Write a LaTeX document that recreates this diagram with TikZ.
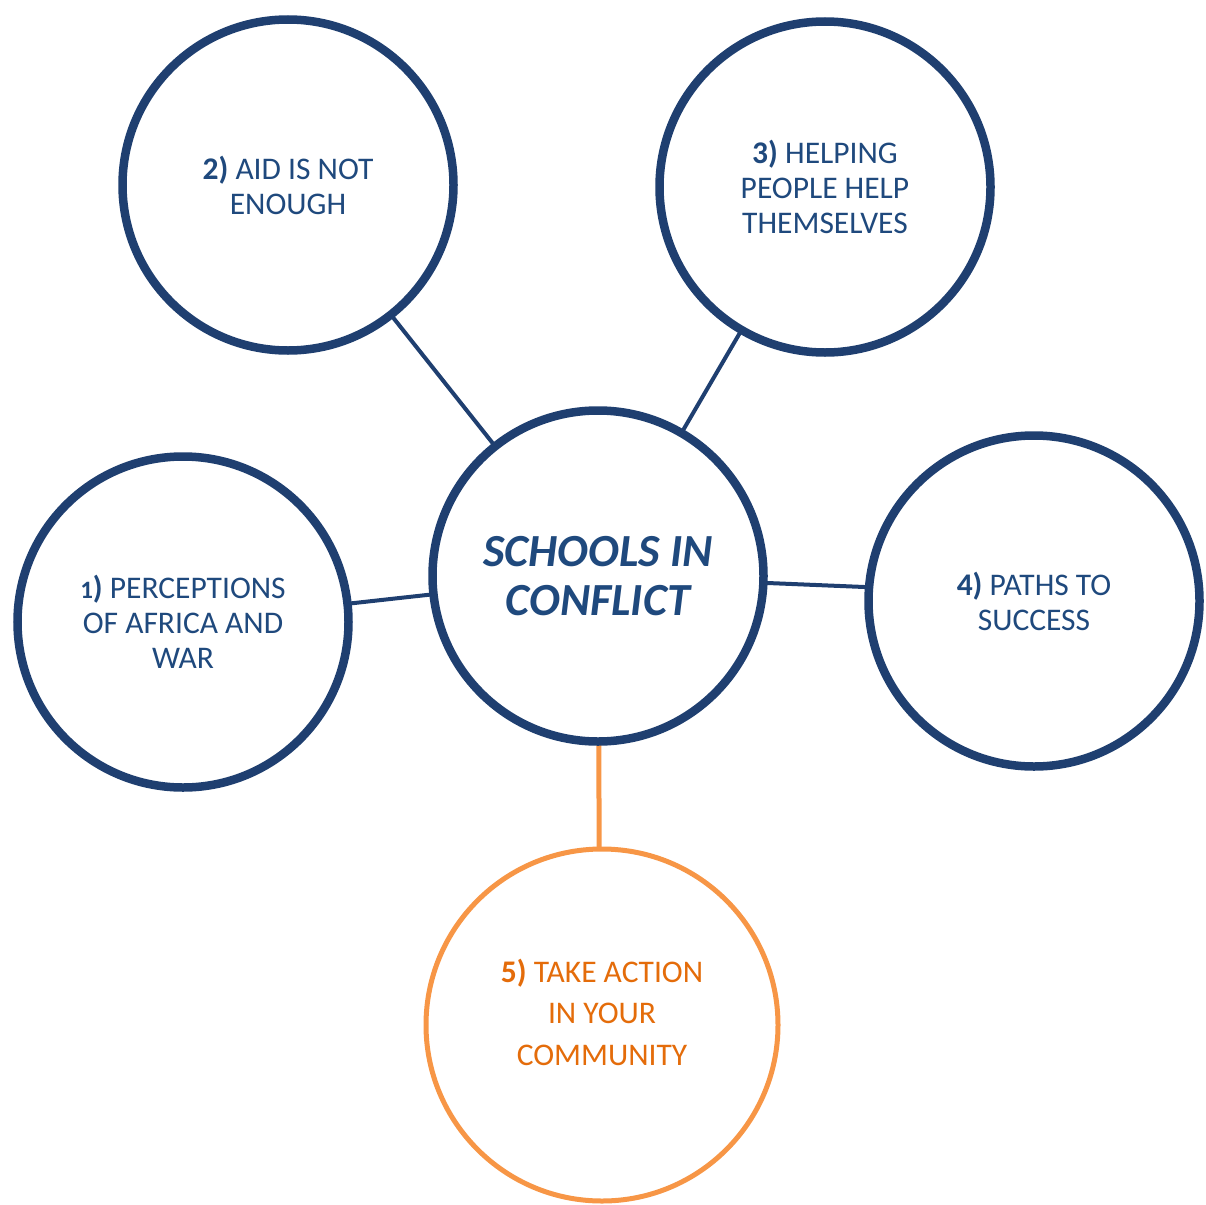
\documentclass[tikz,border=0pt]{standalone}
\usepackage{fontspec}
\setmainfont{Carlito}
\definecolor{ringblue}{HTML}{1F3F70}
\definecolor{textblue}{HTML}{1F497D}
\definecolor{ringorange}{HTML}{F79646}
\definecolor{textorange}{HTML}{E46C0A}
\begin{document}
\begin{tikzpicture}[x=1pt,y=-1pt,
  topic/.style={circle,draw=ringblue,line width=8.5pt,fill=white,
    minimum size=331pt,inner sep=0pt,align=center,text=textblue,
    font=\fontsize{31.5}{35}\selectfont},
  hub/.style={topic,font=\fontsize{46}{49}\selectfont\bfseries\itshape},
  action/.style={circle,draw=ringorange,line width=5pt,fill=white,
    minimum size=352pt,inner sep=0pt},
  link/.style={draw=ringblue,line width=4pt}]
\useasboundingbox (0,0) rectangle (1206,1204);
% connectors first, circles on top
\coordinate (c0) at (598,576);
\coordinate (c1) at (183,622);
\coordinate (c2) at (288,185);
\coordinate (c3) at (825,187);
\coordinate (c4) at (1034,594);
\coordinate (c5) at (600,1025);
\draw[link] (c0) -- (c1);
\draw[link] (c0) -- (c2);
\draw[link] (c0) -- (c3);
\draw[link] (c0) -- (c4);
\draw[draw=ringorange,line width=5pt] (c0) -- (c5);
\node[hub] (hub) at (c0) {SCHOOLS IN\\CONFLICT};
\node[topic] (perceptions) at (c1) {\textbf{{\fontsize{25}{35}\selectfont 1})} PERCEPTIONS\\OF AFRICA AND\\WAR};
\node[topic] (aid) at (c2) {\textbf{2)} AID IS NOT\\ENOUGH};
\node[topic] (helping) at (c3) {\textbf{3)} HELPING\\PEOPLE HELP\\THEMSELVES};
\node[topic] (paths) at (1034,601) {\textbf{4)} PATHS TO\\SUCCESS};
\node[action] (action) at (602,1025) {};
\node[align=center,text=textorange,font=\fontsize{31.5}{41.5}\selectfont]
  (actiontext) at (602,1012) {\textbf{5)} TAKE ACTION\\IN YOUR\\COMMUNITY};
\end{tikzpicture}
\end{document}
